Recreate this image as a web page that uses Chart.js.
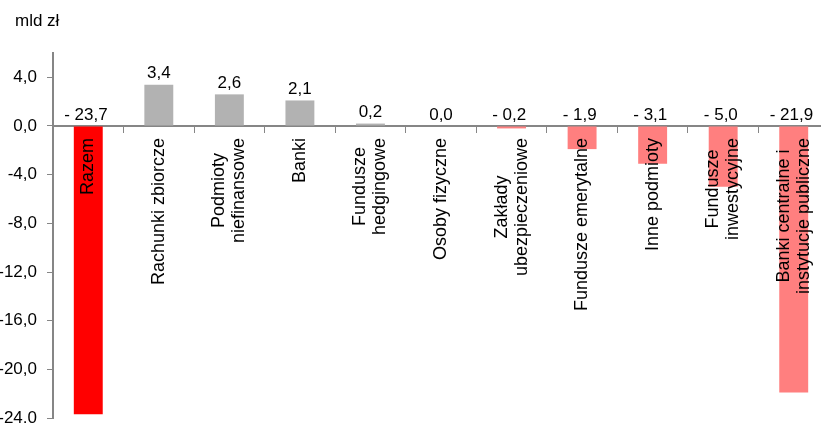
<!DOCTYPE html>
<html>
<head>
<meta charset="utf-8">
<script src="https://cdn.jsdelivr.net/npm/chart.js@4/dist/chart.umd.min.js"></script>
<style>
  html, body { margin: 0; padding: 0; overflow: hidden; background: #fff; }
  #wrap { width: 829px; height: 440px; }
</style>
</head>
<body>
<div id="wrap"><canvas id="c" width="829" height="440"></canvas></div>
<script>
// Sector breakdown, mld zł
const categories = [
  ["Razem"],
  ["Rachunki zbiorcze"],
  ["Podmioty", "niefinansowe"],
  ["Banki"],
  ["Fundusze", "hedgingowe"],
  ["Osoby fizyczne"],
  ["Zakłady", "ubezpieczeniowe"],
  ["Fundusze emerytalne"],
  ["Inne podmioty"],
  ["Fundusze", "inwestycyjne"],
  ["Banki centralne i", "instytucje publiczne"]
];
const values = [-23.7, 3.4, 2.6, 2.1, 0.2, 0.0, -0.2, -1.9, -3.1, -5.0, -21.9];
const yTicks = [4, 0, -4, -8, -12, -16, -20, -24];
const unitLabel = "mld zł";

const FONT = "'Liberation Sans', Arial, sans-serif";
const TOTAL_COLOR = '#FF0000';
const POS_COLOR = '#B2B2B2';
const NEG_COLOR = '#FF7F7F';
const AXIS_COLOR = '#868686';

const fmt = v => v.toFixed(1).replace('-', '').replace('.', ',');
const valueText = v => (v < 0 ? '- ' + fmt(v) + ' ' : fmt(v));

const barColors = values.map((v, i) => i === 0 ? TOTAL_COLOR : (v >= 0 ? POS_COLOR : NEG_COLOR));

// rotated category names under the zero line
const categoryLabels = {
  id: 'categoryLabels',
  afterDraw(chart) {
    const { ctx } = chart;
    const x = chart.scales.x, y = chart.scales.y;
    const top = y.getPixelForValue(0) + 12;
    const lineH = 20;
    ctx.save();
    ctx.font = '18px ' + FONT;
    ctx.fillStyle = '#000';
    ctx.textAlign = 'center';
    ctx.textBaseline = 'middle';
    categories.forEach((lines, i) => {
      const maxW = Math.max(...lines.map(l => ctx.measureText(l).width));
      const cx = x.getPixelForValue(i);
      ctx.save();
      ctx.translate(cx, top + maxW / 2);
      ctx.rotate(-Math.PI / 2);
      lines.forEach((l, k) => ctx.fillText(l, 0, (k - (lines.length - 1) / 2) * lineH));
      ctx.restore();
    });
    ctx.restore();
  }
};

// value labels above each bar (or above the zero line for negatives)
const valueLabels = {
  id: 'valueLabels',
  afterDraw(chart) {
    const { ctx } = chart;
    const meta = chart.getDatasetMeta(0);
    const y = chart.scales.y;
    ctx.save();
    ctx.font = '17px ' + FONT;
    ctx.fillStyle = '#000';
    ctx.textAlign = 'center';
    ctx.textBaseline = 'middle';
    meta.data.forEach((bar, i) => {
      const v = values[i];
      ctx.fillText(valueText(v), bar.x, y.getPixelForValue(Math.max(v, 0)) - 11);
    });
    ctx.restore();
  }
};

// unit caption in the top-left corner
const unitCaption = {
  id: 'unitCaption',
  afterDraw(chart) {
    const { ctx } = chart;
    ctx.save();
    ctx.font = '17px ' + FONT;
    ctx.fillStyle = '#000';
    ctx.textAlign = 'left';
    ctx.textBaseline = 'alphabetic';
    ctx.fillText(unitLabel, 15, 26);
    ctx.restore();
  }
};

new Chart(document.getElementById('c'), {
  type: 'bar',
  data: {
    labels: categories.map(l => l.join(' ')),
    datasets: [{
      data: values,
      backgroundColor: barColors,
      borderWidth: 0,
      barPercentage: 0.41,
      categoryPercentage: 1.0
    }]
  },
  options: {
    responsive: false,
    animation: false,
    devicePixelRatio: 1,
    layout: { padding: { top: 53, bottom: 22, left: 0, right: 0 } },
    plugins: { legend: { display: false }, tooltip: { enabled: false } },
    scales: {
      x: {
        type: 'category',
        position: { y: 0 },
        z: 1,
        offset: true,
        grid: {
          offset: true,
          drawOnChartArea: false,
          drawTicks: true,
          tickLength: 6,
          color: AXIS_COLOR,
          lineWidth: 1
        },
        border: { display: true, color: AXIS_COLOR, width: 2 },
        ticks: { display: false }
      },
      y: {
        min: -24,
        max: 6,
        afterBuildTicks: s => { s.ticks = yTicks.map(v => ({ value: v })); },
        afterFit: s => { s.width = 53; },
        grid: {
          drawOnChartArea: false,
          drawTicks: true,
          tickLength: 6,
          color: AXIS_COLOR,
          lineWidth: 1
        },
        border: { display: true, color: AXIS_COLOR, width: 2 },
        ticks: {
          padding: 10,
          color: '#000',
          font: { family: FONT, size: 17 },
          callback: v => v.toFixed(1).replace('.', ',')
        }
      }
    }
  },
  plugins: [categoryLabels, valueLabels, unitCaption]
});
</script>
</body>
</html>
